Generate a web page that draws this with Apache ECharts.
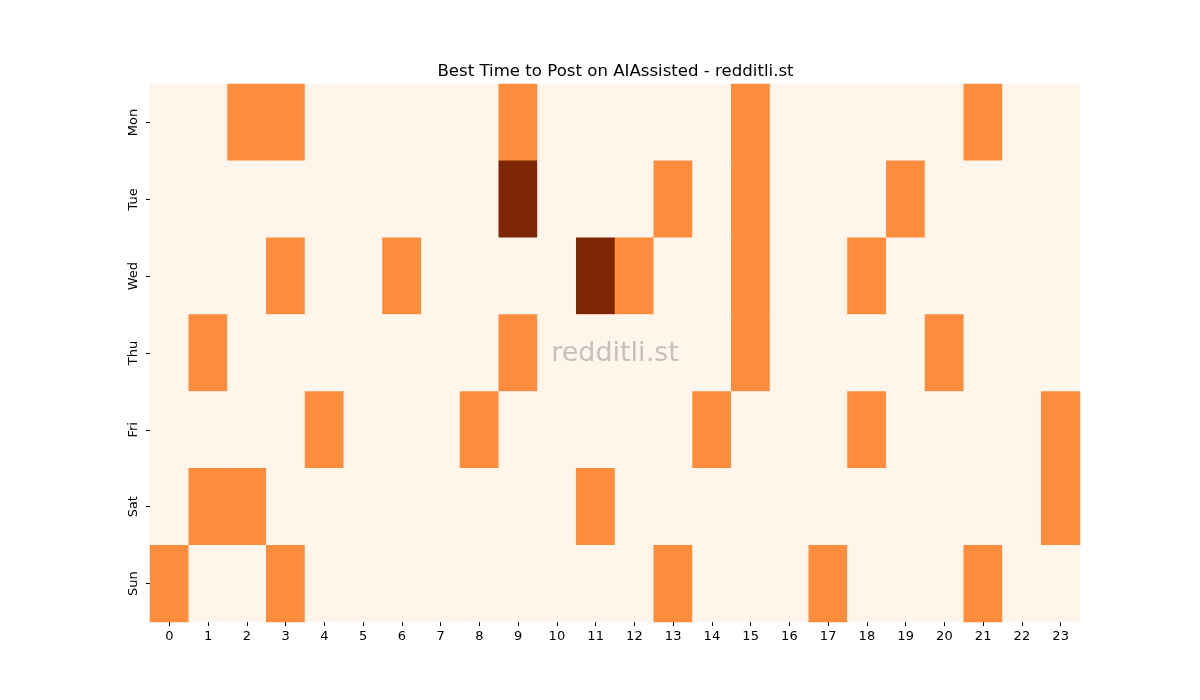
<!DOCTYPE html>
<html>
<head>
<meta charset="utf-8">
<script src="https://cdn.jsdelivr.net/npm/echarts@6/dist/echarts.min.js"></script>
<style>html,body{margin:0;padding:0;background:#fff;}#c{width:1200px;height:700px;}</style>
</head>
<body>
<div id="c"></div>
<script>
const hours = ['0','1','2','3','4','5','6','7','8','9','10','11','12','13','14','15','16','17','18','19','20','21','22','23'];
const days = ['Mon','Tue','Wed','Thu','Fri','Sat','Sun'];
const mon = [0,0,1,1,0,0,0,0,0,1,0,0,0,0,0,1,0,0,0,0,0,1,0,0];
const tue = [0,0,0,0,0,0,0,0,0,2,0,0,0,1,0,1,0,0,0,1,0,0,0,0];
const wed = [0,0,0,1,0,0,1,0,0,0,0,2,1,0,0,1,0,0,1,0,0,0,0,0];
const thu = [0,1,0,0,0,0,0,0,0,1,0,0,0,0,0,1,0,0,0,0,1,0,0,0];
const fri = [0,0,0,0,1,0,0,0,1,0,0,0,0,0,1,0,0,0,1,0,0,0,0,1];
const sat = [0,1,1,0,0,0,0,0,0,0,0,1,0,0,0,0,0,0,0,0,0,0,0,1];
const sun = [1,0,0,1,0,0,0,0,0,0,0,0,0,1,0,0,0,1,0,0,0,1,0,0];
const rows = [mon, tue, wed, thu, fri, sat, sun];

const data = [];
rows.forEach((r, yi) => r.forEach((v, xi) => data.push([xi, yi, v])));

const font = 'DejaVu Sans';
const chart = echarts.init(document.getElementById('c'));
chart.setOption({
  animation: false,
  backgroundColor: '#ffffff',
  grid: {left: 150, top: 84, width: 930, height: 538},
  xAxis: {
    type: 'category', data: hours,
    axisLine: {show: false},
    axisTick: {show: true, alignWithLabel: true, length: 4, lineStyle: {color: '#000'}},
    axisLabel: {fontFamily: font, fontSize: 13, color: '#000', margin: 8},
    splitLine: {show: false}
  },
  yAxis: {
    type: 'category', data: days, inverse: true,
    axisLine: {show: false},
    axisTick: {show: true, alignWithLabel: true, length: 4, lineStyle: {color: '#000'}},
    axisLabel: {fontFamily: font, fontSize: 13, color: '#000', rotate: 90, margin: 10},
    splitLine: {show: false}
  },
  visualMap: {
    show: false, type: 'piecewise', dimension: 2,
    pieces: [
      {value: 0, color: '#fff5eb'},
      {value: 1, color: '#fd8d3c'},
      {value: 2, color: '#7f2704'}
    ]
  },
  series: [{
    type: 'heatmap', data: data,
    itemStyle: {borderWidth: 0},
    emphasis: {disabled: true}
  }],
  graphic: [{
    type: 'text', x: 615.5, y: 71.5, z: 100,
    style: {
      text: 'Best Time to Post on AIAssisted - redditli.st',
      fontFamily: font, fontSize: 16.6, fill: '#000',
      align: 'center', verticalAlign: 'middle'
    }
  }, {
    type: 'text', x: 615, y: 354, z: 100,
    style: {
      text: 'redditli.st',
      fontFamily: font, fontSize: 27,
      fill: 'rgba(128,128,128,0.45)',
      align: 'center', verticalAlign: 'middle'
    }
  }]
});
</script>
</body>
</html>
